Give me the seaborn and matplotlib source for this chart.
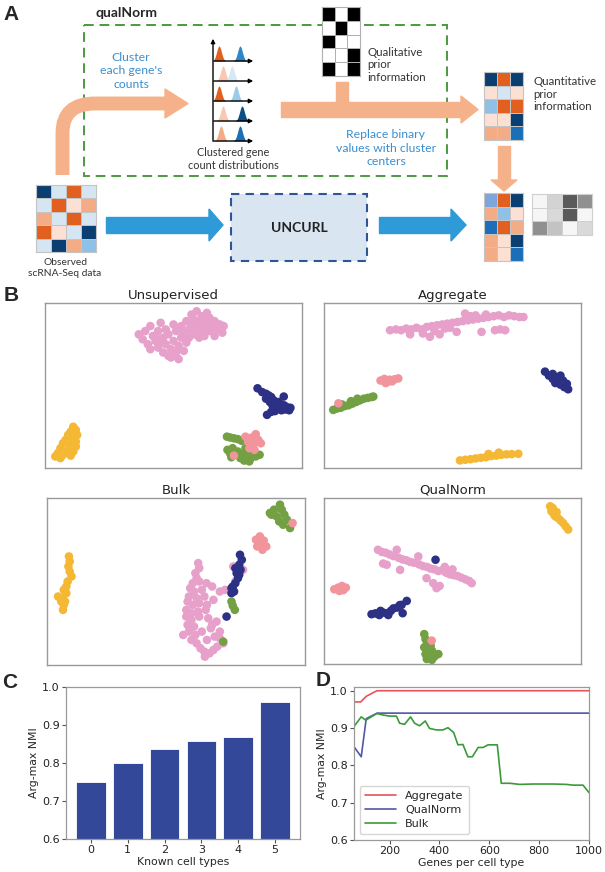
import numpy as np
import pandas as pd
import matplotlib
matplotlib.use('Agg')
import matplotlib.pyplot as plt
import seaborn as sns
from matplotlib.colors import ListedColormap
from matplotlib.patches import Rectangle, Polygon, PathPatch
from matplotlib.path import Path

# ---------------- data ----------------
# panel A matrices (colour codes into mat_colors)
mat_colors = ['#0b3f72', '#1a6fb8', '#8fc0e6', '#d5e5f2', '#fbe0d3', '#f4ac86', '#e2601f', '#7fa6d8']
observed_mat = [[0, 3, 6, 3],
                [3, 6, 4, 5],
                [5, 3, 6, 3],
                [6, 4, 3, 0],
                [3, 0, 5, 2]]
qualitative_mat = [[1, 0, 1],
                   [0, 1, 0],
                   [1, 0, 0],
                   [0, 0, 1],
                   [1, 0, 1]]
quantitative_mat = [[0, 6, 0],
                    [4, 3, 4],
                    [2, 6, 6],
                    [4, 4, 0],
                    [5, 5, 1]]
result_mat = [[7, 6, 0],
              [5, 2, 4],
              [1, 6, 5],
              [5, 4, 0],
              [5, 4, 1]]
gray_mat = [[0.08, 0.28, 0.72, 0.52],
            [0.08, 0.25, 0.72, 0.08],
            [0.52, 0.35, 0.08, 0.25]]

# clustered count distributions: (peak position, colour) per row
dist_rows = [[(219, '#e2601f'), (240, '#2f86c8')],
             [(223, '#f8c8b0'), (232, '#d6e7f5')],
             [(219, '#e2601f'), (236, '#9ccaea')],
             [(223, '#f8c8b0'), (242, '#0d4d85')],
             [(221, '#f4ac86'), (240, '#1b6fb5')]]

# panel B: cell positions (axes units 0-100) per cell type
cell_colors = {'pink': '#e6a0c9', 'navy': '#2c3185', 'yellow': '#f5b835',
               'green': '#72a043', 'salmon': '#f2949c'}

unsup_pink = [(36.5, 81), (38, 78), (39, 83), (40, 75), (41, 72), (41, 86), (42, 80), (43, 77), (44, 83),
              (44, 73), (45, 88), (46, 79), (46, 70), (47, 75), (47, 84), (48, 81), (49, 72), (49, 67),
              (50, 77), (50, 87), (51, 83), (51, 70), (52, 74), (52, 66), (53, 79), (53, 86), (54, 71),
              (54, 82), (55, 76), (55, 89), (56, 84), (56, 79), (57, 93), (57, 87), (58, 81), (58, 90),
              (59, 95), (59, 85), (60, 79), (60, 88), (61, 92), (61, 83), (62, 86), (62, 80), (63, 94),
              (63, 89), (64, 83), (64, 91), (65, 86), (66, 80), (66, 89), (67, 84), (68, 87), (69, 82),
              (69.5, 86), (45, 76), (48, 68), (43, 80)]
unsup_navy = [(82.7, 48.3), (84.5, 46), (86, 45), (86, 42), (87, 44), (87.5, 40), (88, 43), (88.5, 38),
              (89, 41), (90, 39), (90, 36), (91, 40), (91.5, 37), (92, 35), (92.9, 43.3), (93, 38),
              (93.5, 35.5), (94, 37), (95, 35), (95.5, 36.5), (86.4, 32.2), (88, 34), (89.5, 34.5)]
unsup_yellow = [(11, 25), (12, 23), (10, 22), (12.5, 20), (9, 20), (11, 18), (8, 17), (12, 16), (7, 15),
                (10, 14), (12, 13), (6, 12), (9, 11), (11, 10), (5, 9), (7, 8), (10, 7.5), (4, 7), (6, 6)]
unsup_green = [(70.8, 19), (72, 18.5), (73.5, 18), (75, 17.5), (76.5, 16.5), (71, 11), (72, 9), (73, 12),
               (74, 8), (75, 10), (76, 6), (77, 8), (77.5, 4.5), (78.5, 7), (79, 10), (80, 6), (81, 8),
               (82, 7), (83.5, 8), (72.5, 6.5), (78, 12), (79.5, 4)]
unsup_salmon = [(78, 19), (79, 16), (80.5, 18.5), (81, 14), (82, 20.5), (83, 17), (84, 15), (79.5, 12),
                (81.5, 11), (73.5, 7.5)]

agg_pink = [(25.7, 83.5), (28, 84), (30, 83.5), (32, 84.5), (33.5, 81), (34, 84), (36, 85), (38, 84),
            (40, 85.5), (41.2, 79.5), (42, 86), (43, 83), (44, 86.5), (46, 87), (47, 84.5), (48, 87.5),
            (50, 88), (51.6, 82.5), (52, 88.5), (54, 89), (54.9, 93.6), (56, 89.5), (57, 92), (58, 90),
            (59, 92.5), (60, 90.5), (61.3, 82.5), (62, 91), (63, 93), (64, 91.5), (66, 92), (66.5, 83.5),
            (68, 92.5), (68.5, 84), (70, 91.5), (70.5, 83.5), (72, 92.5), (74, 92), (76, 91.5),
            (77.6, 91.5), (38.5, 81.5), (45, 81), (49, 85)]
agg_navy = [(86, 58.4), (87.5, 56), (89, 57), (89, 54), (90.5, 55), (91, 52.5), (92, 56), (92, 50.5),
            (93, 53), (93.5, 49), (94.5, 51), (95, 47.7), (90, 51.5)]
agg_yellow = [(52.9, 4.6), (55, 5), (57, 5.3), (59, 5.8), (61, 6.2), (63, 6.5), (65, 7.2), (67, 7.5),
              (69, 8), (71, 8.3), (73, 8.4), (75.6, 8.6), (64, 8.5), (68, 9.3)]
agg_green = [(3.6, 35.2), (5, 36), (6.5, 36.5), (8, 37.5), (9.5, 38), (11, 39), (12.5, 40), (14, 41),
             (15.5, 42), (17, 42.5), (18.5, 43), (19.2, 43.3), (7, 38.5), (10.5, 40.5), (13, 42)]
agg_salmon = [(22, 53), (23.5, 54), (24.5, 52), (25.5, 53.5), (26.5, 52.5), (27.5, 53.8), (28.9, 54.3),
              (24, 51.5), (5.6, 39.2)]

bulk_pink = [(58.6, 61), (59, 58), (57.5, 55), (58, 52), (56.5, 49), (59, 50), (61.8, 49), (64, 47),
             (55.5, 46), (57, 44), (60, 45), (67, 44), (55, 41), (58, 40), (61, 41), (54.5, 38), (56.5, 36),
             (59, 37), (62, 36), (54, 33), (56, 31), (58.5, 32), (54, 29), (56, 27), (54.5, 24), (57, 23),
             (55, 20), (52.8, 18), (57.5, 18), (56, 15), (58, 13), (59.5, 10), (61, 8), (61.2, 5), (63, 7),
             (64.5, 9), (66, 11), (68.3, 13), (67, 16), (65, 17), (62, 15), (63.5, 22), (65.7, 26),
             (64, 24), (67, 20), (60, 20), (62.5, 28), (59, 29), (64.5, 39), (61.5, 33),
             (72.2, 59), (76, 57), (69, 45), (73, 50)]
bulk_navy = [(74.8, 66), (75.5, 63), (74.5, 60), (75, 57), (73.5, 55), (74, 52), (73, 49), (72, 47),
             (72.5, 44), (71.5, 43), (71.5, 46), (74.5, 54), (73, 58), (69.6, 29)]
bulk_yellow = [(8.5, 65), (8.8, 62), (8.3, 59), (8.8, 56), (9.5, 53), (8, 50), (7.5, 47), (6.5, 45),
               (7.5, 43), (4.3, 41), (6, 40), (5.5, 38), (6.5, 36), (6.2, 33), (7, 38)]
bulk_green = [(71.5, 38), (72, 35.5), (72.8, 33), (68.3, 14), (88, 93), (90.3, 96), (91, 93), (87, 90),
              (89, 89), (92, 90), (90, 86), (93, 87), (94.2, 82), (91.5, 84), (86.4, 91)]
bulk_salmon = [(81, 75), (82.5, 77), (84, 74.5), (81.5, 71), (83.5, 69), (85, 71), (82.5, 72.5), (95.2, 85)]

qn_pink = [(21, 68.8), (22.5, 67.5), (24, 67), (25.5, 66), (27, 65), (28.3, 68.8), (29, 64), (30.5, 63),
           (32, 62.5), (33.5, 61.5), (35, 61), (36.7, 64.8), (37, 60), (38.5, 59), (40, 58.5), (41.5, 57.5),
           (43, 57), (44.5, 56), (46, 56.5), (47.5, 55), (49, 54), (50.5, 53.5), (52, 53), (53.5, 52),
           (55, 51), (56.5, 50), (57.5, 48.7), (24.4, 59.8), (23, 60.5), (29.6, 56.7), (39.9, 51.7),
           (42.5, 48.7), (43.8, 45.7), (45, 47), (47, 58.5), (50, 57)]
qn_navy = [(18.5, 30), (20, 30.5), (21.5, 29.5), (23, 31), (24.5, 30.5), (26, 32), (27, 33.5), (28.5, 34),
           (29.5, 35.5), (30.2, 35.6), (22, 32), (25, 29.5), (32.2, 38), (30.6, 30.6), (43.4, 62.8)]
qn_yellow = [(88, 95), (89, 94), (88.5, 92), (89.5, 90), (90.5, 91.5), (91, 88), (92, 86.5), (93, 85),
             (94, 83), (95, 81), (90, 89)]
qn_green = [(39, 18), (39.5, 15), (40, 12), (39, 10), (40.5, 9), (42, 8), (39.5, 6), (41, 5), (43, 4.5),
            (44.5, 6), (40, 3), (42, 2.5), (41.5, 11)]
qn_salmon = [(4, 45), (5.5, 46), (7, 47), (8.5, 46), (6, 44), (7.5, 44.5), (41.9, 14.1)]

# panel C
known_types = [0, 1, 2, 3, 4, 5]
argmax_nmi = [0.751, 0.801, 0.838, 0.859, 0.868, 0.960]

# panel D
genes_agg = [57, 84, 106, 149, 1000]
nmi_agg = [0.970, 0.970, 0.985, 1.000, 1.000]
genes_qual = [57, 86, 106, 126, 150, 1000]
nmi_qual = [0.850, 0.823, 0.925, 0.932, 0.940, 0.940]
genes_bulk = [57, 86, 104, 126, 149, 173, 200, 227, 240, 260, 284, 300, 320, 343, 360, 387, 414, 434,
              457, 474, 494, 514, 532, 555, 575, 595, 632, 648, 682, 722, 775, 856, 909, 936, 976, 1000]
nmi_bulk = [0.904, 0.930, 0.921, 0.930, 0.939, 0.935, 0.932, 0.932, 0.913, 0.910, 0.930, 0.913, 0.906,
            0.919, 0.899, 0.895, 0.895, 0.901, 0.888, 0.855, 0.856, 0.823, 0.823, 0.848, 0.848, 0.855,
            0.855, 0.752, 0.752, 0.749, 0.750, 0.750, 0.749, 0.747, 0.747, 0.727]

# ---------------- figure ----------------
sns.set_style('white')
plt.rcParams['font.family'] = ['DejaVu Sans']
W, H = 605, 872
fig = plt.figure(figsize=(W / 100, H / 100), dpi=100)

def px_axes(x0, y0, x1, y1):
    return fig.add_axes([x0 / W, 1 - y1 / H, (x1 - x0) / W, (y1 - y0) / H])

bg = fig.add_axes([0, 0, 1, 1])
bg.set_xlim(0, W)
bg.set_ylim(H, 0)
bg.axis('off')

ORANGE = '#f5b28a'
BLUE_ARROW = '#2e9ad8'
TXT_BLUE = '#3a8fd0'
A_FONT = ['Lato', 'DejaVu Sans']

# ---- panel A ----
bg.add_patch(Rectangle((84, 25), 363, 151, fill=False, edgecolor='#4b9a3f', lw=1.4,
                       linestyle=(0, (5, 3)), zorder=1))
bg.add_patch(Rectangle((231, 194), 136, 67, facecolor='#dae5f2', edgecolor='#2f5597', lw=1.5,
                       linestyle=(0, (4, 3)), zorder=1))

# curved orange arrow
curve = Path([(62.5, 175), (62.5, 133), (62.5, 103.5), (95, 103.5), (166, 103.5)],
             [Path.MOVETO, Path.LINETO, Path.CURVE3, Path.CURVE3, Path.LINETO])
bg.add_patch(PathPatch(curve, fill=False, edgecolor=ORANGE, lw=10, capstyle='butt', zorder=2))
bg.add_patch(Polygon([(165, 89), (188, 103.5), (165, 118)], color=ORANGE, zorder=2))
# long orange arrow with T connector
bg.add_patch(Rectangle((281, 102), 181, 15, color=ORANGE, zorder=2))
bg.add_patch(Rectangle((336, 82), 12, 22, color=ORANGE, zorder=2))
bg.add_patch(Polygon([(461, 96), (478, 109.5), (461, 123)], color=ORANGE, zorder=2))
# down arrow
bg.add_patch(Rectangle((498, 146), 12, 35, color=ORANGE, zorder=2))
bg.add_patch(Polygon([(491, 180), (517, 180), (504, 191)], color=ORANGE, zorder=2))
# blue arrows
bg.add_patch(Rectangle((106, 217), 104, 16, color=BLUE_ARROW, zorder=2))
bg.add_patch(Polygon([(209, 209), (223, 225), (209, 241)], color=BLUE_ARROW, zorder=2))
bg.add_patch(Rectangle((379, 217), 73, 16, color=BLUE_ARROW, zorder=2))
bg.add_patch(Polygon([(451, 209), (466, 225), (451, 241)], color=BLUE_ARROW, zorder=2))

# clustered distributions
bg.annotate('', xy=(213, 36), xytext=(213, 144),
            arrowprops=dict(arrowstyle='-|>', color='black', lw=1, mutation_scale=6), zorder=3)
baselines = [61, 81, 101, 121, 141]
for b, peaks in zip(baselines, dist_rows):
    for c, col in peaks:
        xs = np.linspace(c - 7, c + 7, 40)
        bg.fill_between(xs, b, b - 15 * np.exp(-0.5 * ((xs - c) / 2.4) ** 2), color=col, lw=0, zorder=3)
    bg.annotate('', xy=(256, b), xytext=(211, b),
                arrowprops=dict(arrowstyle='-|>', color='black', lw=1, mutation_scale=6), zorder=4)

# matrices
def draw_matrix(box, mat, cmap, vmin, vmax, line='#c4c4c4'):
    ax = px_axes(*box)
    sns.heatmap(np.array(mat), ax=ax, cmap=cmap, vmin=vmin, vmax=vmax, cbar=False,
                linewidths=0.6, linecolor=line, xticklabels=False, yticklabels=False)
    for sp in ax.spines.values():
        sp.set_visible(True)
        sp.set_color(line)
        sp.set_linewidth(0.8)
    return ax

mat_cmap = ListedColormap(mat_colors)
draw_matrix((36, 185, 96, 252), observed_mat, mat_cmap, -0.5, 7.5)
draw_matrix((322, 7, 360, 76), qualitative_mat, ListedColormap(['white', 'black']), 0, 1, line='#b0b0b0')
draw_matrix((484, 72, 523, 140), quantitative_mat, mat_cmap, -0.5, 7.5)
draw_matrix((484, 193, 523, 261), result_mat, mat_cmap, -0.5, 7.5)
draw_matrix((532, 194, 592, 235), gray_mat, 'Greys', 0, 1, line='#d0d0d0')

# panel A text
bg.text(11, 14, 'A', fontsize=15, fontweight='bold', ha='center', va='center', family=['Liberation Sans'])
bg.text(126, 13, 'qualNorm', fontsize=10, fontweight='bold', ha='center', va='center', family=A_FONT)
bg.text(131, 71, "Cluster\neach gene's\ncounts", fontsize=8.8, color=TXT_BLUE, ha='center', va='center',
        linespacing=1.25, family=A_FONT)
bg.text(233, 159, 'Clustered gene\ncount distributions', fontsize=7.8, color='#333333', ha='center',
        va='center', linespacing=1.15, family=A_FONT)
bg.text(367, 65, 'Qualitative\nprior\ninformation', fontsize=8.3, color='#333333', ha='left', va='center',
        linespacing=1.15, family=A_FONT)
bg.text(533, 94, 'Quantitative\nprior\ninformation', fontsize=8.3, color='#333333', ha='left',
        va='center', linespacing=1.15, family=A_FONT)
bg.text(386, 148, 'Replace binary\nvalues with cluster\ncenters', fontsize=8.8, color=TXT_BLUE,
        ha='center', va='center', linespacing=1.25, family=A_FONT)
bg.text(65, 268, 'Observed\nscRNA-Seq data', fontsize=7.4, color='#333333', ha='center', va='center',
        linespacing=1.15, family=A_FONT)
bg.text(299, 228, 'UNCURL', fontsize=10, fontweight='bold', color='#222222', ha='center', va='center',
        family=A_FONT)

# ---- panel B ----
def scatter_panel(box, title, clusters):
    ax = px_axes(*box)
    rows = []
    for name, pts in clusters:
        rows += [(x, y, name) for x, y in pts]
    df = pd.DataFrame(rows, columns=['x', 'y', 'cell'])
    sns.scatterplot(data=df, x='x', y='y', hue='cell', palette=cell_colors, s=38, linewidth=0,
                    legend=False, ax=ax)
    ax.set_xlim(0, 100)
    ax.set_ylim(0, 100)
    ax.set_xticks([])
    ax.set_yticks([])
    ax.set_xlabel('')
    ax.set_ylabel('')
    ax.set_title(title, fontsize=9.5, pad=3, color='#222222')
    for sp in ax.spines.values():
        sp.set_color('#999999')
        sp.set_linewidth(1)

scatter_panel((45, 303, 302, 468), 'Unsupervised',
              [('pink', unsup_pink), ('navy', unsup_navy), ('yellow', unsup_yellow),
               ('green', unsup_green), ('salmon', unsup_salmon)])
scatter_panel((324, 303, 581, 468), 'Aggregate',
              [('pink', agg_pink), ('navy', agg_navy), ('yellow', agg_yellow),
               ('green', agg_green), ('salmon', agg_salmon)])
scatter_panel((47, 498, 305, 665), 'Bulk',
              [('pink', bulk_pink), ('navy', bulk_navy), ('yellow', bulk_yellow),
               ('green', bulk_green), ('salmon', bulk_salmon)])
scatter_panel((324, 498, 581, 664), 'QualNorm',
              [('pink', qn_pink), ('navy', qn_navy), ('yellow', qn_yellow),
               ('green', qn_green), ('salmon', qn_salmon)])
bg.text(11, 295, 'B', fontsize=15, fontweight='bold', ha='center', va='center', family=['Liberation Sans'])

# ---- panel C ----
def style_axes(ax):
    for sp in ax.spines.values():
        sp.set_color('#999999')
        sp.set_linewidth(0.9)
    ax.tick_params(axis='both', labelsize=8, length=3, width=0.8, color='#555555', labelcolor='#222222',
                   pad=1.5, bottom=True, left=True)
    ax.xaxis.label.set_size(7.8)
    ax.yaxis.label.set_size(7.8)

axc = px_axes(66, 687, 300, 839)
sns.barplot(x=known_types, y=argmax_nmi, color='#34489a', saturation=1, width=0.8, edgecolor='white',
            linewidth=0.6, ax=axc)
axc.set_xlim(-0.68, 5.68)
axc.set_ylim(0.6, 1.0)
axc.set_yticks([0.6, 0.7, 0.8, 0.9, 1.0])
axc.set_yticklabels(['0.6', '0.7', '0.8', '0.9', '1.0'])
axc.set_xlabel('Known cell types', labelpad=1)
axc.set_ylabel('Arg-max NMI', labelpad=2)
style_axes(axc)
bg.text(10, 682, 'C', fontsize=15, fontweight='bold', ha='center', va='center', family=['Liberation Sans'])

# ---- panel D ----
axd = px_axes(354, 687, 589, 840)
sns.lineplot(x=genes_agg, y=nmi_agg, color='#e8525a', lw=1.2, label='Aggregate', ax=axd)
sns.lineplot(x=genes_qual, y=nmi_qual, color='#5257a6', lw=1.2, label='QualNorm', ax=axd)
sns.lineplot(x=genes_bulk, y=nmi_bulk, color='#3a9a3a', lw=1.2, label='Bulk', ax=axd)
axd.set_xlim(57, 1000)
axd.set_ylim(0.6, 1.01)
axd.set_xticks([200, 400, 600, 800, 1000])
axd.set_yticks([0.6, 0.7, 0.8, 0.9, 1.0])
axd.set_yticklabels(['0.6', '0.7', '0.8', '0.9', '1.0'])
axd.set_xlabel('Genes per cell type', labelpad=1)
axd.set_ylabel('Arg-max NMI', labelpad=2)
style_axes(axd)
axd.legend(loc='lower left', fontsize=8, frameon=True, handlelength=2.8, borderpad=0.5,
           labelspacing=0.35, edgecolor='#cccccc', fancybox=True)
bg.text(323, 680, 'D', fontsize=15, fontweight='bold', ha='center', va='center', family=['Liberation Sans'])

fig.savefig('out.png', dpi=100)
